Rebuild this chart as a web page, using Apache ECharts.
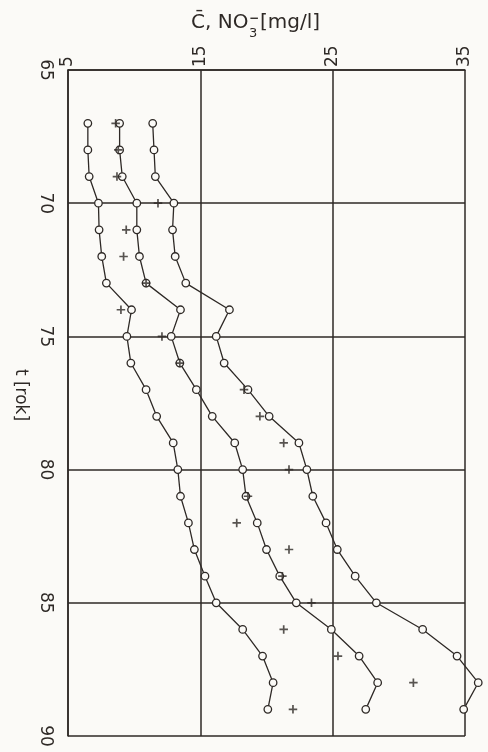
<!DOCTYPE html>
<html>
<head>
<meta charset="utf-8">
<script src="https://cdn.jsdelivr.net/npm/echarts@6/dist/echarts.min.js"></script>
<style>
    html, body { margin: 0; padding: 0; background: #fbfaf7; }
    #chart { width: 488px; height: 752px; }
</style>
</head>
<body>
<div id="chart"></div>
<script>
    // lata na osi (65..90), etykiety co 5
    var yearAxis = ['65', '66', '67', '68', '69', '70', '71', '72', '73', '74', '75', '76', '77',
        '78', '79', '80', '81', '82', '83', '84', '85', '86', '87', '88', '89', '90'];
    // lata pomiarów
    var years = ['67', '68', '69', '70', '71', '72', '73', '74', '75', '76', '77', '78', '79',
        '80', '81', '82', '83', '84', '85', '86', '87', '88', '89'];
    // trzy serie kółek
    var seriesA = [6.5, 6.5, 6.6, 7.3, 7.35, 7.55, 7.9, 9.8, 9.45, 9.75, 10.9, 11.7, 12.95, 13.3, 13.5, 14.1, 14.55, 15.35, 16.2, 18.2, 19.7, 20.5, 20.1];
    var seriesB = [8.9, 8.9, 9.1, 10.2, 10.2, 10.4, 10.9, 13.5, 12.8, 13.45, 14.7, 15.9, 17.6, 18.2, 18.45, 19.3, 20.0, 21.0, 22.25, 24.9, 27.0, 28.4, 27.5];
    var seriesC = [11.4, 11.5, 11.6, 13.0, 12.9, 13.1, 13.9, 17.2, 16.2, 16.8, 18.6, 20.2, 22.45, 23.05, 23.5, 24.5, 25.35, 26.7, 28.3, 31.8, 34.4, 36.0, 34.9];
    // krzyżyki (pomiary)
    var crosses = [8.6, 8.8, 8.7, 11.8, 9.4, 9.2, 10.9, 9.0, 12.1, 13.45, 18.3, 19.5, 21.3, 21.7, 18.6, 17.75, 21.7, 21.2, 23.4, 21.3, 25.4, 31.1, 22.0];
    // podziałka stężeń
    var concTicks = [5, 15, 25, 35];

    var ink = '#2e2926';
    var paper = '#fbfaf7';

    function pairs(vals) {
        return years.map(function (t, i) { return [vals[i], t]; });
    }

    function circleLine(vals) {
        return {
            type: 'line',
            data: pairs(vals),
            clip: false,
            symbol: 'circle',
            symbolSize: 7.5,
            showAllSymbol: true,
            lineStyle: { color: ink, width: 1.3 },
            itemStyle: { color: paper, borderColor: ink, borderWidth: 1.3 },
            z: 3
        };
    }

    var myChart = echarts.init(document.getElementById('chart'));
    myChart.setOption({
        backgroundColor: paper,
        animation: false,
        grid: { left: 68, right: 23, top: 70, bottom: 16 },
        xAxis: {
            type: 'value',
            position: 'top',
            min: concTicks[0],
            max: concTicks[concTicks.length - 1],
            interval: 10,
            axisLine: { show: true, lineStyle: { color: ink, width: 1.5 } },
            axisTick: { show: false },
            splitLine: { show: true, lineStyle: { color: ink, width: 1.5 } },
            axisLabel: {
                rotate: -90,
                margin: 3,
                color: ink,
                fontSize: 17,
                fontFamily: 'DejaVu Sans'
            }
        },
        yAxis: {
            type: 'category',
            data: yearAxis,
            inverse: true,
            boundaryGap: false,
            name: 't [rok]',
            nameLocation: 'middle',
            nameRotate: -90,
            nameGap: 38,
            nameTextStyle: { color: ink, fontSize: 17, fontFamily: 'DejaVu Sans', padding: [0, 16, 0, 0] },
            axisLine: { show: true, lineStyle: { color: ink, width: 1.5 } },
            axisTick: { show: false },
            splitLine: { show: true, interval: 4, lineStyle: { color: ink, width: 1.5 } },
            axisLabel: {
                interval: 4,
                rotate: -90,
                margin: 14,
                color: ink,
                fontSize: 17,
                fontFamily: 'DejaVu Sans'
            }
        },
        graphic: [
            { type: 'text', left: 191, top: 13, style: { text: 'C\u0304, NO', fill: ink, font: '20px "DejaVu Sans"' } },
            { type: 'text', left: 249, top: 27, style: { text: '3', fill: ink, font: '13px "DejaVu Sans"' } },
            { type: 'text', left: 249, top: 13, style: { text: '\u2212', fill: ink, font: 'bold 12px "DejaVu Sans"' } },
            { type: 'text', left: 260, top: 13, style: { text: '[mg/l]', fill: ink, font: '20px "DejaVu Sans"' } }
        ],
        series: [
            circleLine(seriesA),
            circleLine(seriesB),
            circleLine(seriesC),
            {
                type: 'scatter',
                data: pairs(crosses),
                clip: false,
                symbol: 'path://M4,0h2v4h4v2h-4v4h-2v-4h-4v-2h4z',
                symbolSize: 8.5,
                itemStyle: { color: ink },
                z: 4
            }
        ]
    });
</script>
</body>
</html>
